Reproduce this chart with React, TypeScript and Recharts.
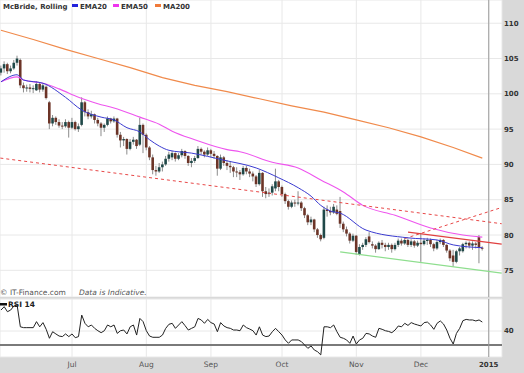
import React from 'react';
import { Bar, CartesianGrid, ComposedChart, Line, ReferenceLine, XAxis, YAxis } from 'recharts';

// one candle per trading day: open, high, low, close
const ohlc: [number, number, number, number][] = [
  [103.0, 104.0, 102.6, 103.6], [103.6, 104.6, 103.0, 104.2], [104.2, 104.4, 102.8, 103.2], [103.2, 104.0, 102.9, 103.6],
  [103.6, 104.8, 103.4, 104.4], [104.4, 105.4, 104.0, 105.0], [104.8, 105.0, 100.8, 101.2], [101.2, 101.6, 100.2, 100.8],
  [100.8, 101.3, 100.3, 100.9], [100.9, 101.4, 100.2, 100.7], [100.7, 101.2, 100.1, 100.8], [100.5, 101.8, 100.4, 101.4],
  [101.4, 101.6, 100.2, 100.6], [100.6, 101.5, 100.3, 101.2], [101.0, 101.2, 99.2, 99.4], [98.8, 99.0, 95.0, 95.8],
  [95.8, 97.0, 95.4, 96.6], [96.6, 96.8, 95.6, 96.0], [96.0, 96.4, 95.2, 95.5], [95.5, 96.0, 95.0, 95.4],
  [95.4, 96.4, 95.2, 96.0], [96.0, 96.2, 93.8, 95.2], [95.2, 96.6, 95.0, 96.0], [96.0, 96.2, 94.8, 95.0],
  [95.0, 95.8, 94.6, 95.4], [95.6, 99.5, 95.4, 98.8], [98.8, 99.0, 96.8, 97.4], [97.4, 97.8, 96.4, 96.8],
  [96.8, 97.6, 96.5, 97.1], [97.1, 97.2, 95.8, 96.3], [96.3, 96.6, 95.4, 95.8], [95.8, 96.0, 94.0, 95.2],
  [95.2, 95.8, 94.6, 95.6], [95.6, 96.8, 95.4, 96.5], [96.5, 96.6, 95.8, 96.1], [96.1, 96.8, 95.9, 96.5],
  [96.5, 96.6, 93.8, 94.2], [94.2, 94.6, 92.4, 93.4], [93.4, 93.9, 92.6, 93.6], [93.6, 93.7, 91.4, 92.2],
  [92.2, 93.6, 92.0, 93.2], [93.2, 93.9, 92.8, 93.5], [93.5, 93.6, 92.2, 92.6], [92.8, 96.6, 92.6, 95.6],
  [95.6, 95.8, 91.6, 94.2], [94.2, 94.4, 92.0, 92.4], [92.4, 92.6, 90.6, 91.0], [91.0, 91.4, 88.6, 89.2],
  [89.2, 89.8, 88.4, 89.0], [89.0, 90.2, 88.8, 89.6], [89.6, 90.4, 89.0, 90.0], [90.0, 91.2, 89.8, 90.8],
  [90.8, 91.8, 90.4, 91.4], [91.0, 91.9, 90.6, 91.6], [91.6, 91.7, 90.4, 90.8], [90.8, 91.6, 90.6, 91.3],
  [91.3, 92.2, 91.0, 91.9], [91.9, 92.0, 90.8, 91.2], [91.2, 91.3, 89.8, 90.2], [90.2, 90.9, 89.6, 90.5],
  [90.5, 91.2, 90.2, 90.9], [90.9, 92.6, 90.8, 92.2], [92.2, 92.4, 91.4, 91.8], [91.8, 92.0, 91.0, 91.4],
  [91.4, 92.4, 91.2, 92.0], [92.0, 92.2, 91.0, 91.5], [91.5, 91.9, 90.8, 91.2], [91.2, 91.3, 88.4, 89.4],
  [89.4, 91.4, 89.2, 91.0], [91.0, 91.2, 89.8, 90.2], [90.2, 90.6, 89.2, 89.8], [89.8, 90.4, 88.8, 89.6],
  [89.6, 89.8, 88.2, 89.0], [89.0, 89.6, 88.2, 88.9], [88.9, 89.2, 87.8, 88.6], [88.6, 89.8, 88.4, 89.5],
  [89.5, 89.8, 88.6, 89.0], [89.0, 89.4, 88.2, 88.7], [88.7, 89.0, 87.6, 88.3], [88.3, 88.5, 86.8, 87.2],
  [87.2, 89.2, 87.0, 88.8], [88.8, 88.9, 85.4, 86.2], [86.2, 86.8, 85.2, 85.8], [85.8, 86.6, 85.4, 86.0],
  [86.0, 87.2, 85.6, 86.9], [86.6, 89.4, 86.2, 87.6], [87.6, 87.8, 86.2, 86.8], [86.8, 87.0, 85.4, 85.8],
  [85.8, 86.0, 84.4, 84.8], [84.8, 85.0, 83.6, 84.0], [84.0, 84.9, 83.8, 84.6], [84.6, 85.0, 84.0, 84.5],
  [84.5, 86.2, 84.2, 84.6], [84.6, 84.8, 83.4, 83.8], [83.8, 84.0, 82.4, 82.8], [82.8, 83.0, 81.4, 81.8],
  [81.8, 82.6, 81.4, 82.2], [82.2, 82.3, 80.4, 80.8], [80.8, 81.0, 79.6, 80.0], [80.0, 80.2, 79.1, 79.4],
  [79.6, 84.0, 79.4, 83.6], [83.6, 84.2, 82.6, 83.4], [83.4, 84.0, 82.8, 83.2], [83.2, 84.4, 83.0, 84.0],
  [83.6, 84.2, 82.8, 83.0], [83.4, 85.4, 81.0, 81.6], [81.6, 81.9, 80.4, 80.8], [80.8, 81.2, 79.8, 80.2],
  [80.2, 80.4, 78.8, 79.2], [79.2, 80.2, 79.0, 79.9], [79.9, 80.0, 77.2, 77.6], [77.3, 78.7, 77.1, 78.3],
  [78.3, 78.9, 77.9, 78.6], [78.6, 79.7, 78.3, 79.4], [79.8, 80.4, 78.8, 79.0], [78.7, 79.1, 78.1, 78.5],
  [78.5, 78.7, 77.5, 78.0], [78.0, 79.1, 77.9, 78.9], [78.9, 79.3, 78.1, 78.6], [78.6, 78.9, 77.7, 78.3],
  [78.3, 78.9, 77.9, 78.6], [78.6, 78.8, 77.5, 78.0], [78.0, 78.9, 77.8, 78.6], [78.6, 79.5, 78.3, 79.2],
  [79.2, 79.5, 78.5, 78.8], [78.8, 79.6, 78.6, 79.3], [79.3, 79.5, 78.3, 78.6], [78.6, 79.4, 78.3, 79.1],
  [79.1, 79.3, 78.2, 78.5], [78.5, 79.2, 78.3, 78.9], [78.9, 80.3, 76.2, 78.7], [78.7, 79.5, 78.5, 79.2],
  [79.2, 79.6, 78.6, 79.3], [79.3, 79.5, 78.3, 78.7], [78.7, 78.9, 77.7, 78.1], [78.1, 79.3, 77.9, 79.0],
  [79.0, 79.5, 78.7, 79.3], [79.3, 79.4, 78.3, 78.6], [78.6, 78.7, 77.5, 77.8], [77.8, 78.0, 76.3, 76.7],
  [77.1, 77.9, 75.5, 76.2], [76.2, 77.9, 76.0, 77.7], [77.7, 78.3, 77.1, 78.1], [77.7, 78.9, 77.5, 78.7],
  [78.7, 79.1, 78.1, 78.9], [78.9, 79.1, 78.1, 78.5], [78.5, 79.1, 77.9, 78.8], [78.8, 79.0, 78.1, 78.6],
  [79.7, 80.0, 76.0, 78.2], [78.2, 78.4, 77.8, 78.1],
];

const rsi14 = [
  55, 57.4, 53.8, 55, 57.9, 58.6, 43, 42.4, 42.4, 42.4,
  42.4, 46.7, 43, 46, 41.2, 34.8, 39.5, 37.9, 36.4, 36,
  37.9, 36, 37.9, 35.2, 36, 51.4, 45.5, 43, 44.3, 41.9,
  40.2, 38.8, 40.2, 44.3, 43, 44.3, 38.3, 40.2, 40.7, 37.9,
  43, 44.3, 37.1, 49, 46.7, 40.2, 36.4, 35.5, 35.5, 35.5,
  37.1, 41.9, 44.8, 45.5, 41.9, 44.3, 46.7, 43.8, 40.7, 41.9,
  43, 49, 47.9, 45.5, 48.3, 46, 45, 39.5, 46, 43.6,
  42.4, 41.9, 40.7, 40.7, 40.2, 44.3, 42.4, 41.4, 40.2, 37.1,
  43, 37.1, 36, 36.4, 39.5, 41.9, 39.5, 37.1, 33.6, 31.2,
  33.6, 33.6, 33.6, 32.4, 30, 27.6, 29.3, 26.4, 25.2, 22.9,
  43, 43, 42.4, 44.3, 39.5, 35.5, 34.8, 33.6, 31.2, 36.4,
  30.7, 33.6, 34.8, 38.3, 37.9, 36.4, 35.5, 41.9, 41.2, 40.2,
  39.7, 38.8, 40.7, 43.6, 43, 45.5, 44, 46, 45, 44.3,
  43.6, 46, 46.4, 44.3, 41.2, 45.5, 47.2, 45, 40.7, 34.8,
  30.7, 38.3, 41.9, 47.4, 48.3, 47.9, 47.9, 47.2, 47.9, 46.4,
];

const ema20Pts: [number, number][] = [
  [0, 101.7], [5, 102.7], [7, 101.95], [13, 101.5], [20, 99.5], [25, 97.7], [31, 96.7], [35, 96.3],
  [39, 95.2], [43, 94.6], [46, 93.5], [49, 92.6], [52, 92.0], [59, 91.6], [69, 90.6], [79, 89.5],
  [86, 88.1], [92, 86.7], [96, 85.5], [99, 84.2], [102, 83.4], [105, 83.1], [113, 80.7], [126, 79.6],
  [135, 79.3], [140, 78.6], [149, 78.2],
];
const ema50Pts: [number, number][] = [
  [0, 101.7], [5, 102.4], [7, 101.95], [13, 101.5], [18, 100.7], [24, 99.5], [30, 98.6], [35, 98.0],
  [43, 96.7], [49, 95.7], [53, 94.7], [60, 93.5], [70, 92.1], [74, 91.8], [84, 90.3], [92, 89.5],
  [99, 87.8], [106, 86.1], [112, 84.2], [122, 82.8], [133, 81.0], [143, 80.0], [149, 79.7],
];
const ma200Pts: [number, number][] = [
  [0, 109.0], [10, 107.7], [20, 106.3], [30, 105.0], [40, 103.7], [50, 102.3], [60, 101.2], [70, 100.3],
  [80, 99.3], [90, 98.3], [100, 97.4], [110, 96.3], [120, 95.2], [130, 93.9], [140, 92.4], [149, 90.9],
];

// drawn trend lines: [start index, start price, end index, end price]
const dashedTrends: [number, number, number, number][] = [
  [-0.2, 90.9, 155, 81.6],
  [125, 79.5, 155, 83.9],
];
const solidTrends: { line: [number, number, number, number]; color: string }[] = [
  { line: [126, 80.4, 155, 78.7], color: '#e04040' },
  { line: [105, 77.6, 155, 74.6], color: '#8ede8e' },
];

const monthTicks = [22, 45, 65, 87, 110, 130, 151];
const monthLabels = ['Jul', 'Aug', 'Sep', 'Oct', 'Nov', 'Dec', '2015'];
const priceTicks = [75, 80, 85, 90, 95, 100, 105, 110];
const rsiTicks = [40];

const xDomain: [number, number] = [-0.3, 155.1];
const FONT = '"DejaVu Sans", Verdana, sans-serif';

const rows = ohlc.map(([o, h, l, c], i) => ({ i, o, h, l, c, range: [l, h], rsi: rsi14[i] }));
const toSeries = (pts: [number, number][]) => pts.map(([i, v]) => ({ i, v }));

function Candle(props: any) {
  const { x, y, width, height, payload } = props;
  if (!payload || height == null || isNaN(y)) return null;
  const { o, h, l, c } = payload;
  const top = Math.min(y, y + height);
  const full = Math.abs(height);
  const ppu = full / (h - l);
  const yo = top + (h - o) * ppu;
  const yc = top + (h - c) * ppu;
  const cx = x + width / 2;
  const color = c >= o ? '#1f4848' : '#6c3427';
  return (
    <g>
      <line x1={cx} x2={cx} y1={top} y2={top + full} stroke="#8c8c8c" strokeWidth={1} />
      <rect
        x={cx - 1.3}
        y={Math.min(yo, yc)}
        width={2.6}
        height={Math.max(1, Math.abs(yc - yo))}
        fill={color}
      />
    </g>
  );
}

function MonthTick(props: any) {
  const { x, y, payload } = props;
  const idx = monthTicks.indexOf(payload.value);
  const last = idx === monthTicks.length - 1;
  return (
    <text
      x={x}
      y={y}
      dy="0.71em"
      textAnchor="middle"
      fontFamily={FONT}
      fontSize={last ? 7 : 7.5}
      fontWeight={last ? 'bold' : 'normal'}
      fill={last ? '#333' : '#555'}
    >
      {monthLabels[idx]}
    </text>
  );
}

const yTick = { fontFamily: FONT, fontSize: 7, fontWeight: 'bold', fill: '#333' } as const;

export default function App() {
  return (
    <div style={{ position: 'absolute', left: 0, top: 0, width: 524, height: 373, background: '#d9d9d9' }}>
      <div style={{ position: 'absolute', left: 0, top: 0 }}>
        <ComposedChart width={524} height={297} data={rows} margin={{ top: 0, right: 0, left: 0, bottom: 0 }}>
          <CartesianGrid fill="#fff" stroke="#e8e8e8" />
          <XAxis type="number" dataKey="i" domain={xDomain} ticks={monthTicks} allowDataOverflow hide />
          <YAxis
            orientation="right"
            width={22}
            domain={[71.22, 113.29]}
            ticks={priceTicks}
            allowDataOverflow
            axisLine={false}
            tickLine={false}
            tickSize={0}
            tickMargin={2}
            tick={yTick}
            textAnchor="start"
          />
          <ReferenceLine x={151} stroke="#9a9a9a" />
          <Line data={toSeries(ma200Pts)} dataKey="v" type="linear" stroke="#f08a4b" strokeWidth={1.2} dot={false} activeDot={false} isAnimationActive={false} />
          <Line data={toSeries(ema50Pts)} dataKey="v" type="monotone" stroke="#ee55ee" strokeWidth={1.1} dot={false} activeDot={false} isAnimationActive={false} />
          {dashedTrends.map(([x1, y1, x2, y2], k) => (
            <ReferenceLine
              key={`d${k}`}
              segment={[{ x: x1, y: y1 }, { x: x2, y: y2 }]}
              stroke="#e84848"
              strokeDasharray="3 3"
              ifOverflow="visible"
            />
          ))}
          {solidTrends.map(({ line: [x1, y1, x2, y2], color }, k) => (
            <ReferenceLine
              key={`s${k}`}
              segment={[{ x: x1, y: y1 }, { x: x2, y: y2 }]}
              stroke={color}
              strokeWidth={1.2}
              ifOverflow="visible"
            />
          ))}
          <Bar dataKey="range" barSize={3} shape={<Candle />} isAnimationActive={false} />
          <Line data={toSeries(ema20Pts)} dataKey="v" type="monotone" stroke="#3a3ad0" strokeWidth={1} dot={false} activeDot={false} isAnimationActive={false} />
        </ComposedChart>
      </div>
      <div style={{ position: 'absolute', left: 0, top: 297 }}>
        <ComposedChart width={524} height={76} data={rows} margin={{ top: 2, right: 0, left: 0, bottom: 0 }}>
          <CartesianGrid fill="#fff" stroke="#e8e8e8" />
          <XAxis
            type="number"
            dataKey="i"
            domain={xDomain}
            ticks={monthTicks}
            interval={0}
            allowDataOverflow
            height={16}
            axisLine={false}
            tickLine={false}
            tickSize={0}
            tickMargin={5}
            tick={<MonthTick />}
          />
          <YAxis
            orientation="right"
            width={22}
            domain={[21.4, 62.9]}
            ticks={rsiTicks}
            allowDataOverflow
            axisLine={false}
            tickLine={false}
            tickSize={0}
            tickMargin={2}
            tick={yTick}
            textAnchor="start"
          />
          <ReferenceLine y={30} stroke="#7a7a7a" strokeWidth={2} />
          <ReferenceLine x={151} stroke="#9a9a9a" />
          <Line dataKey="rsi" type="linear" stroke="#222" strokeWidth={1} dot={false} activeDot={false} isAnimationActive={false} />
        </ComposedChart>
      </div>
      <svg width={524} height={373} style={{ position: 'absolute', left: 0, top: 0, pointerEvents: 'none' }}>
        <g fontFamily={FONT} fontSize={7} fontWeight="bold" fill="#333">
          <text x={3} y={8.5}>McBride, Rolling</text>
          <rect x={72} y={4} width={6} height={3} fill="#2222dd" />
          <text x={80} y={8.5}>EMA20</text>
          <rect x={113} y={4} width={6} height={3} fill="#ee33ee" />
          <text x={121} y={8.5}>EMA50</text>
          <rect x={155} y={4} width={6} height={3} fill="#f07a3a" />
          <text x={163} y={8.5}>MA200</text>
        </g>
        <g fontFamily={FONT} fontSize={7.5} fill="#555">
          <text x={0} y={295}>© IT-Finance.com</text>
          <text x={79} y={295} fontStyle="italic">Data is Indicative.</text>
        </g>
        <rect x={0} y={303} width={7} height={2.5} fill="#111" />
        <text x={8} y={307} fontFamily={FONT} fontSize={7.5} fontWeight="bold" fill="#222">RSI 14</text>
      </svg>
    </div>
  );
}
